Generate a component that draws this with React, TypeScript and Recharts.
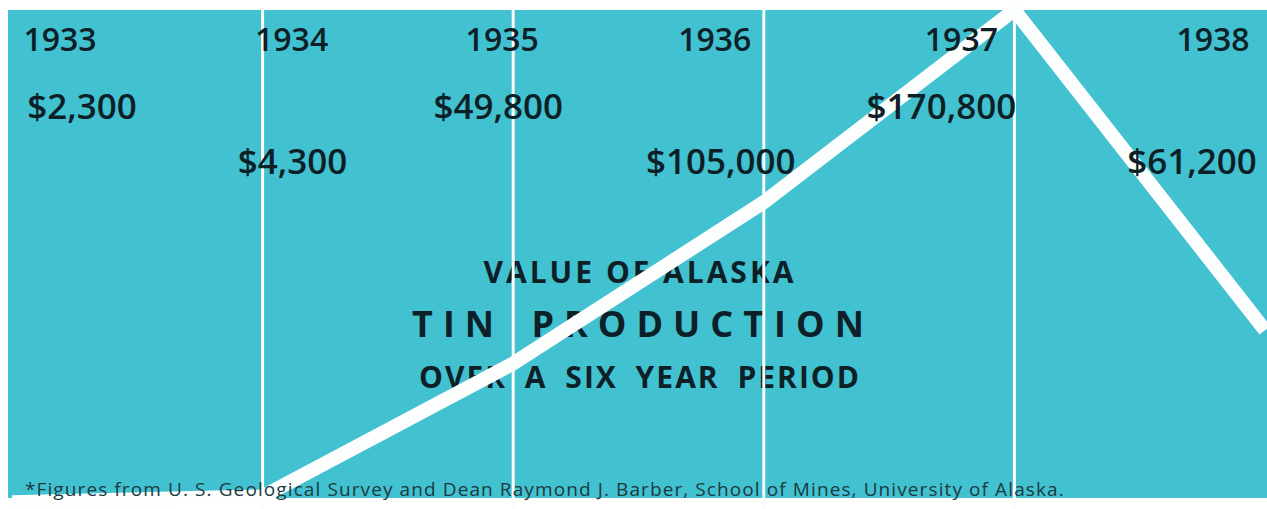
import { LineChart, Line, XAxis, YAxis, ReferenceLine, LabelList } from 'recharts'

const years = ['1933', '1934', '1935', '1936', '1937', '1938']
const values = [2300, 4300, 49800, 105000, 170800, 61200]
const titleLines = ['VALUE OF ALASKA', 'TIN PRODUCTION', 'OVER A SIX YEAR PERIOD']
const footnote =
  '*Figures from U. S. Geological Survey and Dean Raymond J. Barber, School of Mines, University of Alaska.'

// label nudges relative to each year's point (layout only)
const yearShift = [48, 29, -11, -49, -53, -52]
const valueShift = [70, 30, -15, -43, -73, -73]

const W = 1267
const H = 509
const teal = '#42c1d0'
const ink = '#0d1f27'
const font = "'Open Sans', sans-serif"

const data = years.map((year, i) => ({ year, value: values[i] }))

const fmt = (v: number) => '$' + v.toLocaleString('en-US')

function YearLabel(props: any) {
  const { x, index } = props
  const i = index as number
  return (
    <text
      x={x + yearShift[i]}
      y={51}
      textAnchor="middle"
      fill={ink}
      fontSize={32}
      fontWeight={600}
      fontFamily={font}
    >
      {years[i]}
    </text>
  )
}

function ValueLabel(props: any) {
  const { x, index } = props
  const i = index as number
  return (
    <text
      x={x + valueShift[i]}
      y={i % 2 === 0 ? 119 : 174}
      textAnchor="middle"
      fill={ink}
      fontSize={35}
      fontWeight={600}
      fontFamily={font}
    >
      {fmt(values[i])}
    </text>
  )
}

export default function App() {
  return (
    <div style={{ position: 'absolute', left: 0, top: 0, width: W, height: H, background: '#fff' }}>
      {/* backdrop + title, under the line */}
      <svg width={W} height={H} style={{ position: 'absolute', left: 0, top: 0 }}>
        <rect x={8} y={10} width={W - 8} height={488} fill={teal} />
        <text x={640} y={283} textAnchor="middle" fill={ink} fontSize={30} fontWeight={700}
          fontFamily={font} letterSpacing={3}>
          {titleLines[0]}
        </text>
        <text x={643} y={337} textAnchor="middle" fill={ink} fontSize={36} fontWeight={700}
          fontFamily={font} letterSpacing={10} wordSpacing={8}>
          {titleLines[1]}
        </text>
        <text x={640} y={388} textAnchor="middle" fill={ink} fontSize={30} fontWeight={700}
          fontFamily={font} letterSpacing={2} wordSpacing={8}>
          {titleLines[2]}
        </text>
      </svg>

      <div style={{ position: 'absolute', left: 0, top: 0 }}>
        <LineChart width={W} height={H} data={data} margin={{ top: 10, right: 2, bottom: 0, left: 12 }}>
          <XAxis dataKey="year" hide />
          <YAxis hide domain={[0, 170800]} />
          {years.slice(1, -1).map((y) => (
            <ReferenceLine key={y} x={y} stroke="#fbfdfd" strokeWidth={3} />
          ))}
          <Line
            type="linear"
            dataKey="value"
            stroke="#fdfefe"
            strokeWidth={14}
            strokeLinejoin="miter"
            dot={false}
            activeDot={false}
            isAnimationActive={false}
          >
            <LabelList dataKey="year" content={<YearLabel />} />
            <LabelList dataKey="value" content={<ValueLabel />} />
          </Line>
        </LineChart>
      </div>

      {/* footnote sits on top of the line */}
      <svg width={W} height={H} style={{ position: 'absolute', left: 0, top: 0, pointerEvents: 'none' }}>
        <text x={25} y={496} fill="#1b3a42" fontSize={19} fontFamily={font} letterSpacing={1.1}>
          {footnote}
        </text>
      </svg>
    </div>
  )
}
